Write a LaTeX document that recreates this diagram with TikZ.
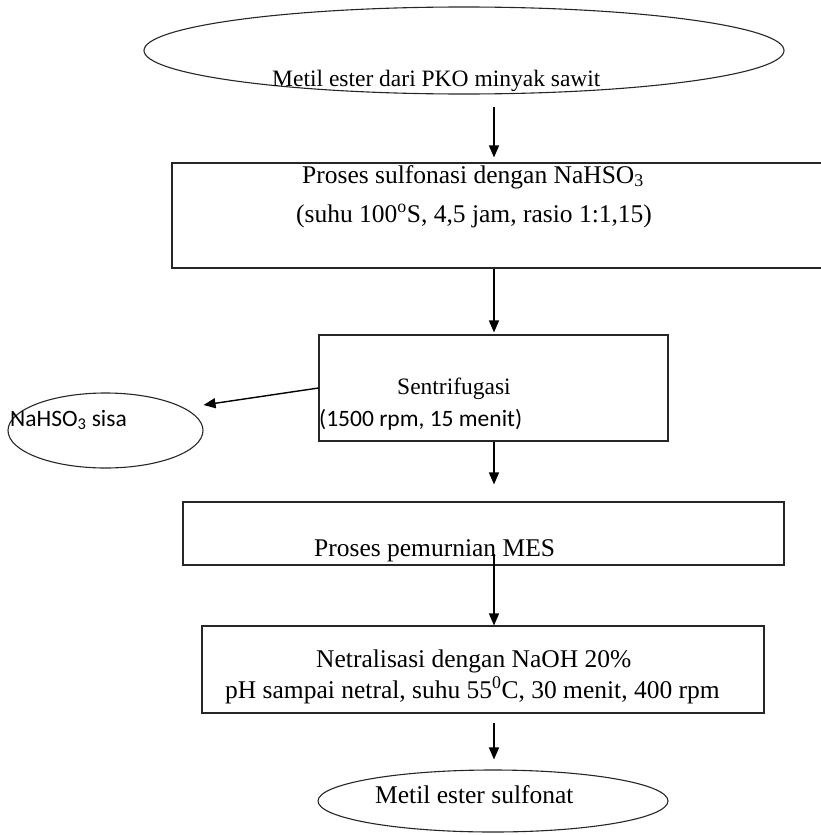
\documentclass[tikz,border=0pt]{standalone}
\usepackage{fontspec}
\setmainfont{Liberation Serif}
\newfontfamily\calfont{Carlito}
\usetikzlibrary{shapes.geometric,arrows.meta,calc}
\begin{document}
\tikzset{
  shapeline/.style={draw=black!85, line width=1.1pt},
  boxnode/.style={shapeline, rectangle, inner sep=0pt},
  ovalnode/.style={shapeline, ellipse, inner sep=0pt},
  arr/.style={line width=1.4pt, -{Triangle[length=12pt,width=10pt]}},
  bigtxt/.style={inner sep=0pt, anchor=base west, font=\fontsize{25.5}{30}\selectfont},
  smalltxt/.style={inner sep=0pt, anchor=base west, font=\fontsize{23.5}{28}\selectfont},
  sanstxt/.style={inner sep=0pt, anchor=base west, font=\calfont\fontsize{23.5}{28}\selectfont},
}
\begin{tikzpicture}[x=1pt,y=-1pt]
\useasboundingbox (0,0) rectangle (820,835);
\coordinate (col) at (494,0);
% shapes
\node[ovalnode, minimum width=640pt, minimum height=87pt] (e1) at (464,50.5) {};
\node[boxnode, minimum width=650pt, minimum height=105pt] (box1) at (497,215.5) {};
\node[boxnode, minimum width=349pt, minimum height=106pt] (box2) at (493.5,388) {};
\node[ovalnode, minimum width=195pt, minimum height=75pt] (e3) at (105.5,430.5) {};
\node[boxnode, minimum width=601pt, minimum height=63pt] (box3) at (483.5,533.5) {};
\node[boxnode, minimum width=562pt, minimum height=87pt] (box4) at (483,669.5) {};
\node[ovalnode, minimum width=350pt, minimum height=62pt] (e2) at (493,801) {};
% texts
\node[smalltxt] (t1) at (272,86) {Metil ester dari PKO minyak sawit};
\node[bigtxt] (t2a) at (302,183) {Proses sulfonasi dengan NaHSO\textsubscript{3}};
\node[bigtxt] (t2b) at (296,222) {(suhu 100\textsuperscript{o}S, 4,5 jam, rasio 1:1,15)};
\node[smalltxt] (t3a) at (397,394) {Sentrifugasi};
\node[sanstxt] (t3b) at (319,426) {(1500 rpm, 15 menit)};
\node[sanstxt] (t4) at (10,426) {NaHSO\textsubscript{3} sisa};
\node[bigtxt] (t5) at (314,556) {Proses pemurnian MES};
\node[bigtxt] (t6a) at (316,667) {Netralisasi dengan NaOH 20\%};
\node[bigtxt] (t6b) at (225,698) {pH sampai netral, suhu 55\textsuperscript{0}C, 30 menit, 400 rpm};
\node[bigtxt] (t7) at (375,803) {Metil ester sulfonat};
% connectors
\draw[arr] ($(e1.south -| col)+(0,12)$) -- ($(box1.north -| col)+(0,-5)$);
\draw[arr] (box1.south -| col) -- ($(box2.north -| col)+(0,-2)$);
\draw[arr] (box2.south -| col) -- ($(box3.north -| col)+(0,-17)$);
\draw[arr] ($(box3.south -| col)+(0,-12)$) -- (box4.north -| col);
\draw[arr] ($(box4.south -| col)+(0,9)$) -- ($(e2.north -| col)+(0,-10)$);
\draw[arr] (box2.west) -- ($(e3.east)+(0,-25.5)$);
\end{tikzpicture}
\end{document}
